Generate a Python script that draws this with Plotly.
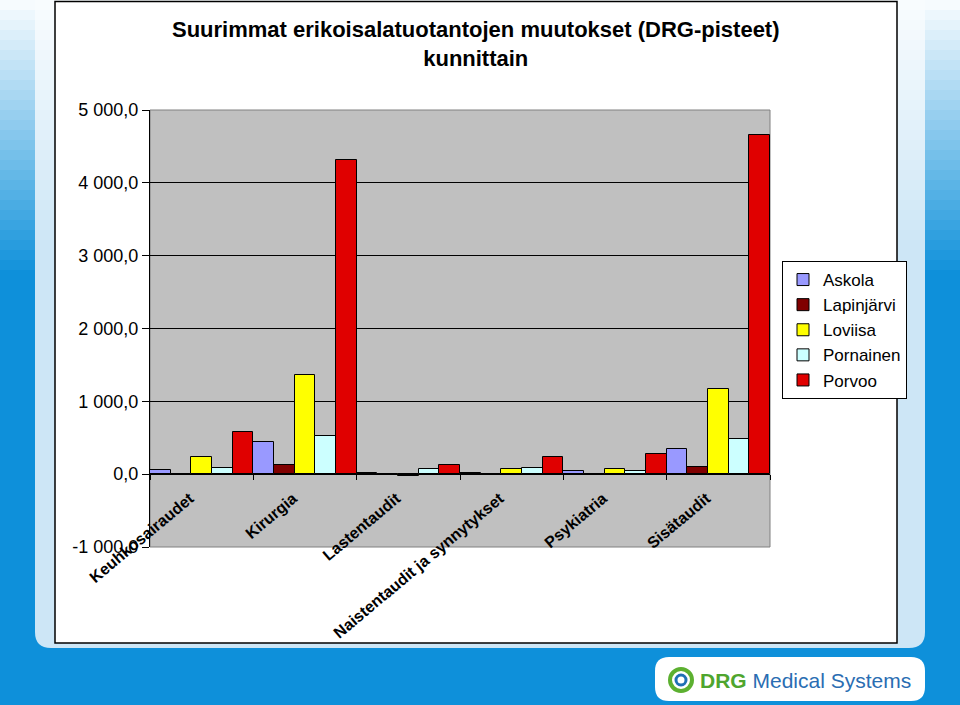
import plotly.graph_objects as go

categories = ["Keuhkosairaudet", "Kirurgia", "Lastentaudit",
              "Naistentaudit ja synnytykset", "Psykiatria", "Sisätaudit"]
series_names = ["Askola", "Lapinjärvi", "Loviisa", "Pornainen", "Porvoo"]
askola = [55, 435, 10, 10, 40, 340]
lapinjarvi = [8, 120, 2, -15, -15, 100]
loviisa = [230, 1360, -30, 65, 65, 1170]
pornainen = [85, 520, 70, 85, 50, 480]
porvoo = [580, 4310, 120, 230, 275, 4660]
tick_vals = [5000, 4000, 3000, 2000, 1000, 0, -1000]
tick_text = ["5 000,0", "4 000,0", "3 000,0", "2 000,0", "1 000,0", "0,0", "-1 000,0"]

colors = ["#9999ff", "#800000", "#ffff00", "#ccffff", "#e00000"]
values = [askola, lapinjarvi, loviisa, pornainen, porvoo]

W, H = 960, 705
L, R, T, B = 150, 770, 110, 547


def px(x):
    return (x - L) / (R - L)


def py(y):
    return (B - y) / (B - T)


def hexmix(c1, c2, t):
    a = [int(c1[i:i + 2], 16) for i in (1, 3, 5)]
    b = [int(c2[i:i + 2], 16) for i in (1, 3, 5)]
    return "#" + "".join(f"{round(a[k] + (b[k] - a[k]) * t):02x}" for k in range(3))


def rrect(x0, y0, x1, y1, r, top_round=True):
    pts = []
    if top_round:
        pts.append(f"M{px(x0)},{py(y0 + r)}")
        pts.append(f"Q{px(x0)},{py(y0)} {px(x0 + r)},{py(y0)}")
        pts.append(f"L{px(x1 - r)},{py(y0)}")
        pts.append(f"Q{px(x1)},{py(y0)} {px(x1)},{py(y0 + r)}")
    else:
        pts.append(f"M{px(x0)},{py(y0)}")
        pts.append(f"L{px(x1)},{py(y0)}")
    pts.append(f"L{px(x1)},{py(y1 - r)}")
    pts.append(f"Q{px(x1)},{py(y1)} {px(x1 - r)},{py(y1)}")
    pts.append(f"L{px(x0 + r)},{py(y1)}")
    pts.append(f"Q{px(x0)},{py(y1)} {px(x0)},{py(y1 - r)}")
    pts.append("Z")
    return " ".join(pts)


BLUE = "#0e90da"
PANEL = "#cde6f6"
shapes = []
# side gradients
n = 28
for i in range(n):
    y0 = i * 10
    c = hexmix("#f6fbfe", BLUE, min(1, i / (n - 1)))
    for (xa, xb) in [(0, 36), (924, 960)]:
        shapes.append(dict(type="rect", xref="paper", yref="paper", layer="below",
                           x0=px(xa), x1=px(xb), y0=py(y0), y1=py(y0 + 10.5),
                           fillcolor=c, line=dict(width=0)))
# light panel
shapes.append(dict(type="path", xref="paper", yref="paper", layer="below",
                   path=rrect(35, -5, 925, 648, 16, top_round=False),
                   fillcolor=PANEL, line=dict(width=0)))
for i in range(25):
    y0 = i * 10
    c = hexmix("#f8fcfe", PANEL, i / 24)
    shapes.append(dict(type="rect", xref="paper", yref="paper", layer="below",
                       x0=px(35), x1=px(925), y0=py(y0), y1=py(y0 + 10.5),
                       fillcolor=c, line=dict(width=0)))
# white chart frame
shapes.append(dict(type="rect", xref="paper", yref="paper", layer="below",
                   x0=px(55), x1=px(897), y0=py(1.5), y1=py(643),
                   fillcolor="white", line=dict(color="black", width=1.5)))
# plot area
shapes.append(dict(type="rect", xref="paper", yref="paper", layer="below",
                   x0=0, x1=1, y0=0, y1=1,
                   fillcolor="#c0c0c0", line=dict(color="#808080", width=1)))
# logo box
shapes.append(dict(type="path", xref="paper", yref="paper", layer="below",
                   path=rrect(655, 657, 925, 701, 14),
                   fillcolor="white", line=dict(width=0)))
shapes.append(dict(type="circle", xref="paper", yref="paper", layer="below",
                   x0=px(670), x1=px(692), y0=py(669), y1=py(691),
                   fillcolor="rgba(0,0,0,0)", line=dict(color="#5cb030", width=4)))
shapes.append(dict(type="circle", xref="paper", yref="paper", layer="below",
                   x0=px(676), x1=px(686), y0=py(675), y1=py(685),
                   fillcolor="rgba(0,0,0,0)", line=dict(color="#1f6fb5", width=3)))

fig = go.Figure()
for name, vals, col in zip(series_names, values, colors):
    fig.add_trace(go.Bar(x=categories, y=vals, name=name,
                         marker=dict(color=col, line=dict(color="black", width=1))))

FONT = "Liberation Sans, Arial, sans-serif"
annotations = [
    dict(xref="paper", yref="paper", x=px(476), y=py(15), xanchor="center", yanchor="top",
         text="<b>Suurimmat erikoisalatuotantojen muutokset (DRG-pisteet)<br>kunnittain</b>",
         showarrow=False, font=dict(family=FONT, size=22, color="black")),
    dict(xref="paper", yref="paper", x=px(698), y=py(680), xanchor="left", yanchor="middle",
         text="<span style='color:#4fa52e'><b>DRG</b></span><span style='color:#2a6db2'> Medical Systems</span>",
         showarrow=False, font=dict(family=FONT, size=21)),
]

fig.update_layout(
    width=W, height=H,
    margin=dict(l=L, r=W - R, t=T, b=H - B, autoexpand=False),
    paper_bgcolor=BLUE,
    plot_bgcolor="rgba(0,0,0,0)",
    barmode="group", bargap=0, bargroupgap=0,
    shapes=shapes,
    annotations=annotations,
    font=dict(family=FONT, color="black"),
    showlegend=True,
    legend=dict(x=px(782), y=py(261), xanchor="left", yanchor="top",
                bgcolor="white", bordercolor="black", borderwidth=1,
                font=dict(family=FONT, size=17, color="black"),
                itemclick=False, tracegroupgap=0),
    xaxis=dict(anchor="free", position=py(474), showline=True, linecolor="black", linewidth=1,
               ticks="outside", ticklen=5, tickcolor="black", tickson="boundaries",
               tickangle=-40, ticklabelshift=-12, ticklabelstandoff=8,
               tickfont=dict(family=FONT, size=16, color="black", weight="bold"),
               showgrid=False, automargin=False),
    yaxis=dict(range=[-1000, 5000], tickvals=tick_vals, ticktext=tick_text,
               showline=True, linecolor="black", linewidth=1,
               ticks="outside", ticklen=7, tickcolor="black",
               showgrid=True, gridcolor="black", gridwidth=1,
               zeroline=True, zerolinecolor="black", zerolinewidth=1,
               tickfont=dict(family=FONT, size=18, color="black"), automargin=False),
)

fig.write_html("out.html")
